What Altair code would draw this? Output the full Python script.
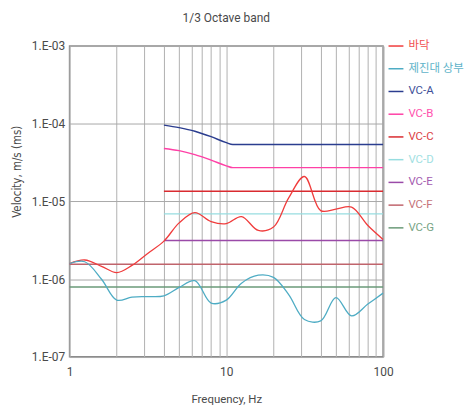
import altair as alt
import pandas as pd

# 1/3 octave band centre frequencies (Hz)
FREQ = [1, 1.25, 1.6, 2, 2.5, 3.15, 4, 5, 6.3, 8, 10, 12.5, 16, 20, 25, 31.5, 40, 50, 63, 80, 100]
FLOOR = [1.58e-6, 1.76e-6, 1.46e-6, 1.21e-6, 1.50e-6, 2.14e-6, 3.08e-6, 5.29e-6, 7.16e-6, 5.50e-6,
         5.18e-6, 6.37e-6, 4.22e-6, 4.67e-6, 1.11e-5, 2.09e-5, 7.59e-6, 7.94e-6, 8.42e-6, 4.89e-6, 3.24e-6]
TABLE_TOP = [1.58e-6, 1.67e-6, 9.95e-7, 5.36e-7, 5.86e-7, 5.94e-7, 6.08e-7, 7.80e-7, 9.52e-7, 4.91e-7,
             5.36e-7, 8.85e-7, 1.12e-6, 1.05e-6, 6.31e-7, 3.02e-7, 2.89e-7, 5.77e-7, 3.35e-7, 4.76e-7, 6.59e-7]

# VC criteria curves
VC_BEND_FREQ = [4, 5, 6.3, 8, 10, 11, 100]
VC_A = [9.6e-5, 8.9e-5, 8.0e-5, 6.8e-5, 5.7e-5, 5.4e-5, 5.4e-5]
VC_B = [4.8e-5, 4.5e-5, 4.0e-5, 3.4e-5, 2.87e-5, 2.72e-5, 2.72e-5]
VC_FLAT4_FREQ = [4, 100]
VC_C = [1.35e-5, 1.35e-5]
VC_D = [6.9e-6, 6.9e-6]
VC_E = [3.14e-6, 3.14e-6]
VC_FLAT1_FREQ = [1, 100]
VC_F = [1.55e-6, 1.55e-6]
VC_G = [7.9e-7, 7.9e-7]

SERIES = ["바닥", "제진대 상부", "VC-A", "VC-B", "VC-C", "VC-D", "VC-E", "VC-F", "VC-G"]
COLORS = ["#f03c3c", "#4eacc4", "#2b3d8f", "#ff40a6", "#d92b30", "#97dde0", "#9a4aa8", "#c0646c", "#6a9a78"]
VC_WIDTHS = [1.4, 1.5, 1.5, 2.2, 1.6, 2.0, 2.6]

X_GRID = [1, 2, 3, 4, 5, 6, 7, 8, 9, 10, 20, 30, 40, 50, 60, 70, 80, 90, 100]
Y_TICKS = [1e-7, 1e-6, 1e-5, 1e-4, 1e-3]

meas_rows = []
for name, vals in [("바닥", FLOOR), ("제진대 상부", TABLE_TOP)]:
    for f, v in zip(FREQ, vals):
        meas_rows.append({"series": name, "f": f, "v": v})
df_meas = pd.DataFrame(meas_rows)

vc_rows = []
for name, fs, vals in [("VC-A", VC_BEND_FREQ, VC_A), ("VC-B", VC_BEND_FREQ, VC_B),
                       ("VC-C", VC_FLAT4_FREQ, VC_C), ("VC-D", VC_FLAT4_FREQ, VC_D),
                       ("VC-E", VC_FLAT4_FREQ, VC_E), ("VC-F", VC_FLAT1_FREQ, VC_F),
                       ("VC-G", VC_FLAT1_FREQ, VC_G)]:
    for f, v in zip(fs, vals):
        vc_rows.append({"series": name, "f": f, "v": v})
df_vc = pd.DataFrame(vc_rows)

color_scale = alt.Scale(domain=SERIES, range=COLORS)
TXT = "#4a4a4a"
FONT = "Roboto"

x_enc = alt.X(
    "f:Q",
    scale=alt.Scale(type="log", domain=[1, 100], nice=False),
    axis=alt.Axis(
        values=X_GRID,
        labelExpr="(datum.value == 1 || datum.value == 10 || datum.value == 100) ? format(datum.value, 'd') : ''",
        ticks=False, domain=False, grid=True, gridColor="#b0b0b0", gridWidth=1,
        labelPadding=10, labelFontSize=12, labelFont=FONT, labelColor=TXT,
        labelOverlap=False, labelFlush=False,
        title="Frequency, Hz", titleFontSize=11.5, titleFont=FONT, titleFontWeight="normal",
        titleColor=TXT, titlePadding=16,
    ),
)
y_enc = alt.Y(
    "v:Q",
    scale=alt.Scale(type="log", domain=[1e-7, 1e-3], nice=False),
    axis=alt.Axis(
        values=Y_TICKS,
        labelExpr="'1.E-0' + round(-log(datum.value) / LN10)",
        ticks=False, domain=False, grid=True, gridColor="#a8a8a8", gridWidth=1,
        labelPadding=5, labelFontSize=12, labelFont=FONT, labelColor=TXT,
        labelOverlap=False, labelFlush=False,
        title="Velocity, m/s (ms)", titleFontSize=11.5,
        titleFont="Liberation Sans Narrow, DejaVu Sans Condensed, Roboto",
        titleFontWeight="normal", titleColor=TXT, titlePadding=9, titleY=126,
    ),
)

vc_layer = alt.Chart(df_vc).mark_line(interpolate="monotone").encode(
    x=x_enc, y=y_enc,
    color=alt.Color("series:N", scale=color_scale, legend=None),
    strokeWidth=alt.StrokeWidth("series:N", scale=alt.Scale(domain=SERIES[2:], range=VC_WIDTHS), legend=None),
    detail="series:N",
)
meas_layer = alt.Chart(df_meas).mark_line(interpolate="catmull-rom", strokeWidth=1.3).encode(
    x=x_enc, y=y_enc,
    color=alt.Color("series:N", scale=color_scale, legend=None),
    detail="series:N",
)

main = alt.layer(vc_layer, meas_layer).properties(
    width=315.5, height=312.7,
    title=alt.TitleParams("1/3 Octave band", fontSize=12, font=FONT, fontWeight="normal",
                          color=TXT, offset=15),
)

df_leg = pd.DataFrame({"series": SERIES})
leg_base = alt.Chart(df_leg).encode(
    y=alt.Y("series:N", sort=SERIES, scale=alt.Scale(type="point", padding=0), axis=None),
    color=alt.Color("series:N", scale=color_scale, legend=None),
)
leg_lines = leg_base.mark_rule(strokeWidth=1.5).encode(x=alt.value(0), x2=alt.value(15))
leg_text = leg_base.mark_text(align="left", baseline="middle", fontSize=11.5,
                              font="Roboto, Noto Sans CJK KR", opacity=0.9).encode(
    x=alt.value(20), text="series:N")
legend = alt.layer(leg_lines, leg_text).properties(
    width=20, height=183, view=alt.ViewBackground(stroke="transparent"))

chart = alt.hconcat(main, legend, spacing=5, bounds="flush").properties(
    padding={"left": 10, "top": 10, "right": 5, "bottom": 5},
).configure_view(stroke="#8c8c8c", strokeWidth=1.5)

chart.save("out.html", embed_options={"renderer": "svg", "actions": False})
